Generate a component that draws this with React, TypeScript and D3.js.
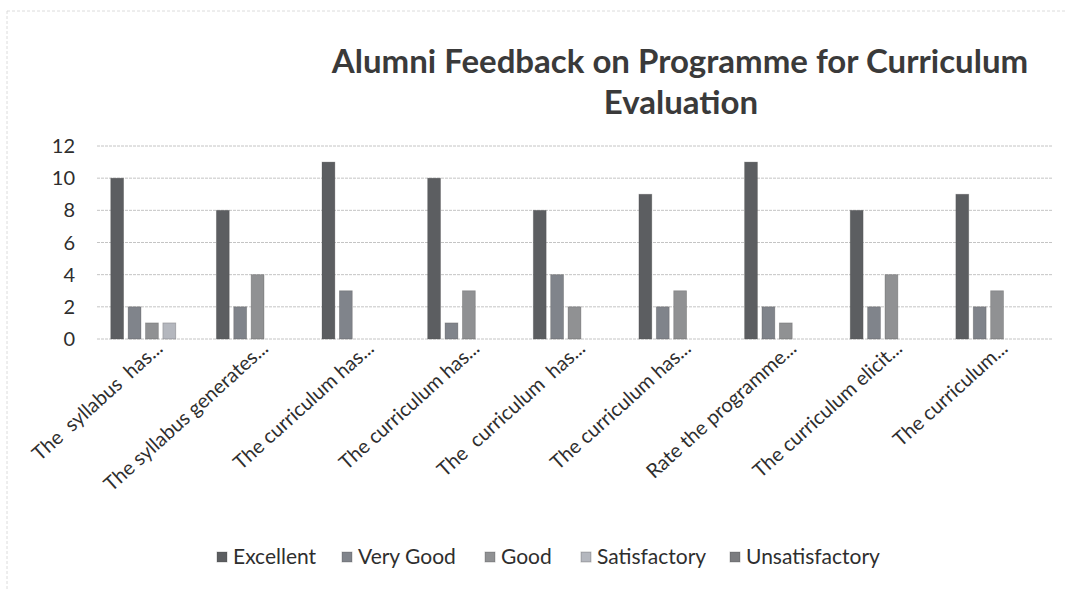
import * as d3 from "d3";

const categories = [
  "The  syllabus  has...",
  "The syllabus generates...",
  "The curriculum has...",
  "The curriculum has...",
  "The  curriculum  has...",
  "The curriculum has...",
  "Rate the programme...",
  "The curriculum elicit...",
  "The curriculum...",
];

const seriesNames = ["Excellent", "Very Good", "Good", "Satisfactory", "Unsatisfactory"];

const excellent = [10, 8, 11, 10, 8, 9, 11, 8, 9];
const veryGood = [2, 2, 3, 1, 4, 2, 2, 2, 2];
const good = [1, 4, 0, 3, 2, 3, 1, 4, 3];
const satisfactory = [1, 0, 0, 0, 0, 0, 0, 0, 0];
const unsatisfactory = [0, 0, 0, 0, 0, 0, 0, 0, 0];

const yTicks = [0, 2, 4, 6, 8, 10, 12];

const colors = ["#5c5e61", "#80848b", "#909193", "#b4b7be", "#7b7c7f"];

const W = 1065;
const H = 589;
const margin = { top: 146, right: 13, bottom: 250, left: 97 };
const font = "Lato, 'Open Sans', sans-serif";

export default function App() {
  const values = [excellent, veryGood, good, satisfactory, unsatisfactory];
  const innerW = W - margin.left - margin.right;
  const innerH = H - margin.top - margin.bottom;

  const x0 = d3
    .scaleBand<number>()
    .domain(d3.range(categories.length))
    .range([0, innerW])
    .paddingInner(0.22)
    .paddingOuter(0.13);

  const x1 = d3
    .scaleBand<number>()
    .domain(d3.range(seriesNames.length))
    .range([0, x0.bandwidth()])
    .paddingInner(0.26);

  const y = d3.scaleLinear().domain([0, 12]).range([innerH, 0]);

  // legend positions
  const legendX = [222, 347, 490, 586, 735];

  return (
    <svg
      width={W}
      height={H}
      style={{ position: "absolute", left: 0, top: 0, background: "#fff" }}
      fontFamily={font}
    >
      <rect x={7} y={11} width={W} height={H} fill="none" stroke="#dcdcdc" strokeDasharray="3 2" />

      <text x={680} y={73} textAnchor="middle" fontSize={33} fontWeight={700} fill="#3a3a3a">
        Alumni Feedback on Programme for Curriculum
      </text>
      <text x={681} y={114} textAnchor="middle" fontSize={33} fontWeight={700} fill="#3a3a3a">
        Evaluation
      </text>

      <g transform={`translate(${margin.left},${margin.top})`}>
        {yTicks.map((t) => (
          <g key={t}>
            <line
              x1={0}
              x2={innerW}
              y1={y(t)}
              y2={y(t)}
              stroke="#c4c4c4"
              strokeWidth={1}
              strokeDasharray="3 1"
            />
            <text
              x={-22}
              y={y(t)}
              dy="0.35em"
              textAnchor="end"
              fontSize={20}
              fill="#2e2e2e"
            >
              {t}
            </text>
          </g>
        ))}

        {categories.map((c, i) => (
          <g key={i} transform={`translate(${x0(i)},0)`}>
            {values.map((vals, s) =>
              vals[i] > 0 ? (
                <rect
                  key={s}
                  x={x1(s)}
                  y={y(vals[i])}
                  width={x1.bandwidth()}
                  height={innerH - y(vals[i])}
                  fill={colors[s]}
                  stroke="#4a4a4a"
                  strokeOpacity={0.35}
                  strokeWidth={0.8}
                />
              ) : null
            )}
          </g>
        ))}

        {categories.map((c, i) => {
          const cx = (x0(i) ?? 0) + x0.bandwidth() / 2 + 12;
          return (
            <text
              key={i}
              transform={`translate(${cx},${innerH + 11}) rotate(-42)`}
              textAnchor="end"
              fontSize={20}
              fill="#2e2e2e"
              style={{ whiteSpace: "pre" }}
            >
              {c}
            </text>
          );
        })}
      </g>

      {seriesNames.map((n, s) => (
        <g key={n} transform={`translate(${legendX[s]},557)`}>
          <rect x={-5} y={-5} width={10} height={10} fill={colors[s]} stroke="#444" strokeOpacity={0.3} />
          <text x={11} y={0} dy="0.35em" fontSize={21} fill="#2e2e2e">
            {n}
          </text>
        </g>
      ))}
    </svg>
  );
}
